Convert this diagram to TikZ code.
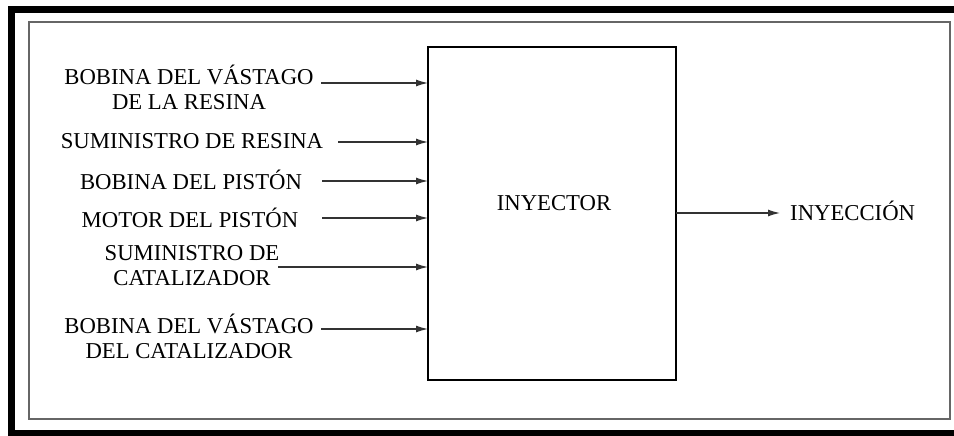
\documentclass[tikz,border=0pt]{standalone}
\usepackage{fontspec}
\setmainfont{Liberation Serif}
\usetikzlibrary{arrows.meta}
\begin{document}
\begin{tikzpicture}[x=1pt,y=-1pt,
  lbl/.style={font=\fontsize{22.7}{25}\selectfont, align=center, inner sep=0pt, anchor=center},
  conn/.style={draw=black!80, line width=1.2pt, -{Latex[length=12pt,width=7pt]}}]
\useasboundingbox (0,0) rectangle (954,436);
% frames
\draw[line width=7pt, line join=miter] (954,9.5) -- (11.5,9.5) -- (11.5,433) -- (954,433);
\draw[draw=black!60, line width=1.5pt] (29,22) rectangle (950,419);
% main block
\node[draw, line width=1.2pt, inner sep=0pt, outer sep=0pt,
      minimum width=248pt, minimum height=333pt] (inj) at (552,213.5) {};
\node[lbl] (tinj) at (554,203) {INYECTOR};
% input labels
\node[lbl] (l1) at (189,87) {BOBINA DEL VÁSTAGO\\DE LA RESINA};
\node[lbl] (l2) at (192,141) {SUMINISTRO DE RESINA};
\node[lbl] (l3) at (191,180) {BOBINA DEL PISTÓN};
\node[lbl] (l4) at (190,218) {MOTOR DEL PISTÓN};
\node[lbl] (l5) at (192,266) {SUMINISTRO DE\\CATALIZADOR};
\node[lbl] (l6) at (189,336) {BOBINA DEL VÁSTAGO\\DEL CATALIZADOR};
% connector start points
\coordinate (s1) at (321,83);
\coordinate (s2) at (338,142);
\coordinate (s3) at (322,181);
\coordinate (s4) at (322,218);
\coordinate (s5) at (278,267);
\coordinate (s6) at (321,329);
\foreach \i in {1,...,6} {\draw[conn] (s\i) -- (s\i -| inj.west);}
% output
\coordinate (o) at (780,213);
\draw[conn] (o -| inj.east) -- (o);
\node[lbl, anchor=west] (out) at (790,211) {INYECCIÓN};
\end{tikzpicture}
\end{document}
